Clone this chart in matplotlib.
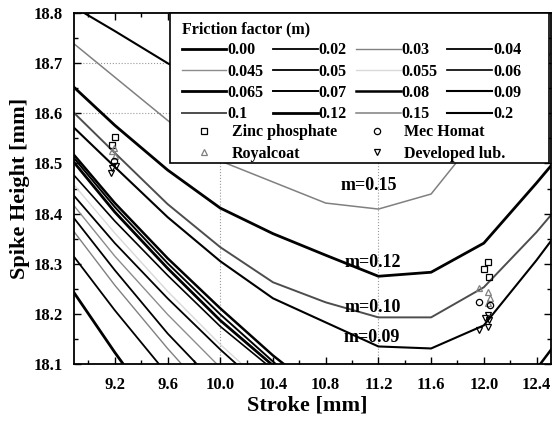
import numpy as np
import matplotlib
matplotlib.use('Agg')
import matplotlib.pyplot as plt
from matplotlib.lines import Line2D
from matplotlib.patches import Rectangle

plt.rcParams['font.family'] = ['Liberation Serif', 'DejaVu Serif']
plt.rcParams['font.weight'] = 'bold'

# stroke positions of the FE runs [mm]
stroke = [8.8, 9.2, 9.6, 10.0, 10.4, 10.8, 11.2, 11.6, 12.0, 12.4, 12.8]

# spike height [mm] for each friction factor
m_labels = ['0.00', '0.02', '0.03', '0.04', '0.045', '0.05', '0.055', '0.06',
            '0.065', '0.07', '0.08', '0.09', '0.1', '0.12', '0.15', '0.2']
h000 = [18.277, 18.123, 17.978, 17.838]
h002 = [18.345, 18.207, 18.079, 17.956]
h003 = [18.395, 18.257, 18.131, 18.014]
h004 = [18.421, 18.287, 18.161, 18.051, 17.934]
h0045 = [18.445, 18.315, 18.199, 18.093, 17.986]
h005 = [18.463, 18.341, 18.231, 18.129, 18.034]
h0055 = [18.485, 18.361, 18.245, 18.139, 18.044]
h006 = [18.503, 18.385, 18.277, 18.175, 18.089, 17.998]
h0065 = [18.531, 18.403, 18.291, 18.187, 18.097, 18.004]
h007 = [18.539, 18.413, 18.301, 18.199, 18.105, 18.012]
h008 = [18.545, 18.421, 18.311, 18.211, 18.117, 18.034, 17.990, 17.980, 18.010, 18.090, 18.230]
h009 = [18.594, 18.493, 18.393, 18.305, 18.231, 18.183, 18.135, 18.131, 18.177, 18.307, 18.447]
h010 = [18.624, 18.521, 18.419, 18.333, 18.263, 18.223, 18.193, 18.193, 18.253, 18.363, 18.487]
h012 = [18.674, 18.576, 18.487, 18.411, 18.360, 18.317, 18.275, 18.283, 18.341, 18.461, 18.586]
h015 = [18.758, 18.672, 18.586, 18.505, 18.463, 18.421, 18.409, 18.439, 18.570, 18.690, 18.800]
h020 = [18.826, 18.764, 18.700, 18.642, 18.602, 18.572, 18.556, 18.576, 18.666, 18.786, 18.900]
heights = [h000, h002, h003, h004, h0045, h005, h0055, h006,
           h0065, h007, h008, h009, h010, h012, h015, h020]

line_colors = ['k', 'k', '0.5', 'k', '0.55', 'k', '0.85', 'k',
               'k', 'k', 'k', 'k', '0.3', 'k', '0.5', 'k']
line_widths = [2.0, 1.3, 1.0, 1.3, 1.0, 1.3, 1.0, 1.2,
               2.0, 1.4, 1.8, 1.5, 1.4, 2.0, 1.1, 1.5]

# experiments
zinc_x = [9.20, 9.18, 12.03, 12.00, 12.04]
zinc_y = [18.552, 18.537, 18.303, 18.289, 18.273]
royal_x = [9.19, 9.20, 9.18, 11.96, 12.03, 12.05, 12.03]
royal_y = [18.530, 18.515, 18.525, 18.251, 18.243, 18.231, 18.221]
mec_x = [9.19, 11.96, 12.05]
mec_y = [18.505, 18.223, 18.217]
dev_x = [9.18, 9.17, 9.21, 12.03, 12.01, 12.04, 12.03, 11.96]
dev_y = [18.490, 18.480, 18.495, 18.197, 18.191, 18.187, 18.173, 18.167]

curve_tags = ['m=0.15', 'm=0.12', 'm=0.10', 'm=0.09']
tag_x = [11.13, 11.16, 11.16, 11.15]
tag_y = [18.457, 18.303, 18.213, 18.153]

fig = plt.figure(figsize=(5.53, 4.24), dpi=100)
ax = fig.add_axes([0.1338, 0.1415, 0.8626, 0.8278])

for xv in [10.0, 11.2]:
    ax.axvline(xv, color='0.6', lw=0.8, ls=':', zorder=1)
for yv in [18.6, 18.7]:
    ax.axhline(yv, color='0.6', lw=0.8, ls=':', zorder=1)

handles = []
for h, c, w in zip(heights, line_colors, line_widths):
    ln, = ax.plot(stroke[:len(h)], h, color=c, lw=w, zorder=2)
    handles.append(ln)

ms = 4.5
ax.plot(zinc_x, zinc_y, 's', ms=ms, mfc='none', mec='k', mew=0.9, zorder=3)
ax.plot(royal_x, royal_y, '^', ms=ms, mfc='none', mec='0.5', mew=0.9, zorder=3)
ax.plot(mec_x, mec_y, 'o', ms=ms, mfc='none', mec='k', mew=0.9, zorder=3)
ax.plot(dev_x, dev_y, 'v', ms=ms + 0.5, mfc='none', mec='k', mew=0.9, zorder=3)

for t, x, y in zip(curve_tags, tag_x, tag_y):
    ax.text(x, y, t, fontsize=13, fontweight='bold', ha='center', va='center', zorder=3)

ax.set_xlim(8.89, 12.51)
ax.set_ylim(18.1, 18.8)
ax.set_xticks([9.2, 9.6, 10.0, 10.4, 10.8, 11.2, 11.6, 12.0, 12.4])
ax.set_xticks(np.arange(9.0, 12.6, 0.2), minor=True)
ax.set_yticks([18.1, 18.2, 18.3, 18.4, 18.5, 18.6, 18.7, 18.8])
ax.set_yticks(np.arange(18.1, 18.81, 0.05), minor=True)
ax.xaxis.set_major_formatter(matplotlib.ticker.FormatStrFormatter('%.1f'))
ax.yaxis.set_major_formatter(matplotlib.ticker.FormatStrFormatter('%.1f'))
ax.tick_params(which='both', direction='in', top=True, right=True, width=1.0)
ax.tick_params(which='major', length=5, labelsize=12)
ax.tick_params(which='minor', length=3)
ax.tick_params(axis='x', pad=9)
ax.tick_params(axis='y', pad=8)
for s in ax.spines.values():
    s.set_linewidth(1.3)

ax.set_xlabel('Stroke [mm]', fontsize=16, fontweight='bold')
ax.set_ylabel('Spike Height [mm]', fontsize=16, fontweight='bold')
ax.xaxis.set_label_coords(0.49, -0.091)
ax.yaxis.set_label_coords(-0.092, 0.5)

# legend frame
ax.add_patch(Rectangle((0.2004, 0.5726), 0.7954, 0.4274, transform=ax.transAxes,
                       fc='white', ec='black', lw=1.2, zorder=4, clip_on=False))

# legend fills column by column, so reorder to read row by row
order = [r * 4 + c for c in range(4) for r in range(4)]
leg1 = ax.legend([handles[i] for i in order], [m_labels[i] for i in order],
                 ncol=4, title='Friction factor (m)',
                 loc='upper left', bbox_to_anchor=(0.2255, 0.977), frameon=False,
                 handlelength=2.8, handletextpad=0.05, columnspacing=0.6,
                 labelspacing=0.33, borderpad=0, borderaxespad=0,
                 prop={'size': 11.5, 'weight': 'bold'}, alignment='left',
                 title_fontproperties={'size': 11.5, 'weight': 'bold'})
leg1.set_zorder(5)
ax.add_artist(leg1)

mk = [Line2D([], [], ls='none', marker='s', ms=ms, mfc='none', mec='k', mew=0.9),
      Line2D([], [], ls='none', marker='^', ms=ms, mfc='none', mec='0.5', mew=0.9),
      Line2D([], [], ls='none', marker='o', ms=ms, mfc='none', mec='k', mew=0.9),
      Line2D([], [], ls='none', marker='v', ms=ms + 0.5, mfc='none', mec='k', mew=0.9)]
leg2 = ax.legend(mk, ['Zinc phosphate', 'Royalcoat', 'Mec Homat', 'Developed lub.'],
                 ncol=2, loc='upper left', bbox_to_anchor=(0.2568, 0.683), frameon=False,
                 handlelength=1.0, handletextpad=1.2, columnspacing=2.0,
                 labelspacing=0.33, borderpad=0, borderaxespad=0,
                 prop={'size': 11.5, 'weight': 'bold'})
leg2.set_zorder(5)

fig.savefig('out.png', dpi=100)
